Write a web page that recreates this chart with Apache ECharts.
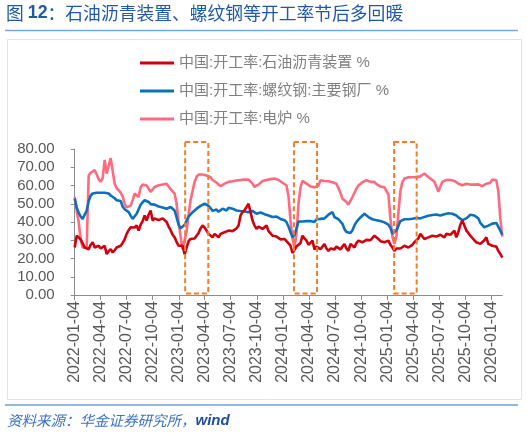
<!DOCTYPE html>
<html>
<head>
<meta charset="utf-8">
<script src="https://cdn.jsdelivr.net/npm/echarts@6/dist/echarts.min.js"></script>
<style>
html,body{margin:0;padding:0;background:#fff;}
#c{width:527px;height:434px;}
</style>
</head>
<body>
<div id="c"></div>
<script>
// ---- data ----
const startDate = '2022-01-04';
const endDate = '2026-02-10';
const seriesNames = ['中国:开工率:石油沥青装置 %', '中国:开工率:螺纹钢:主要钢厂 %', '中国:开工率:电炉 %'];
const quarterTickSuffix = ['-01-04', '-04-04', '-07-04', '-10-04'];
const yTicks = [0, 10, 20, 30, 40, 50, 60, 70, 80];

// weekly values, first week 2022-01-04, one value per week
const asphalt = [
26,32.5,31.5,30.5,29.8,26,25.5,25.1,27.5,28.9,
26,26.5,27,25.5,25.1,27,22.4,24,25.1,23.3,
24.5,26,25.5,27,28.5,30.5,33.5,35.5,37.1,36.2,
37,38.1,35.3,38.5,40.5,43.6,40.8,44,46.3,40.8,
42,42.7,41,41.7,42,42.7,40,37.5,35.5,33,
31.6,29,27,26,27,22.4,26,29.5,30.7,31.6,
31,32.5,34,36.5,38.1,37,36.2,33.5,32.5,31.6,
33.5,32.5,31.6,33.5,33,34.4,34,35.3,34.8,35,
35.3,36.5,38.1,43.6,45.4,46.5,48.2,50,45.4,40.8,
38,36.2,37.5,38.1,36.2,37,38.1,35,34.4,32.5,
33,32,31.6,30.5,29.8,30.7,29.5,28.9,27,23,
23.5,26.6,27.5,28.5,32.5,31,29.8,27.5,27,29.8,
25,26.5,27,25.1,26.5,28,25.5,24.2,25.5,26,
25,26.5,27,25,26.5,28,25.5,24.2,28,27,
26,28.5,29.8,29,28.9,29.8,30.2,30.7,30,29.8,
32.5,31.5,30.7,29.5,28.9,28.9,29.5,29.8,27.5,26,
24.2,25.5,26,25.5,25.1,27,26.5,26,27,27.5,
28.9,28,31,33.5,34.4,30.7,31.2,31.6,32,32.5,
31.6,32,32.5,33,33.5,31.6,33.5,34.4,33,32.5,
35.3,31.6,34.5,38.5,40.8,38.1,35.3,34,32.5,31.6,
30,28.9,28.5,28,28.9,30,31.6,28,27.5,27,
27,26.5,24.2,22.5,20.5
];
const rebar = [
52.8,48,45,43,41.7,42,46.3,51.5,54.5,55.6,
55.8,56,56.5,56,55.6,56,55.4,55.6,54.5,53.7,
53,51.9,52.5,51.5,48.5,47,46,45.4,43.5,41.7,
42.5,44.5,47,49.5,50.8,51.9,51.5,51,49.8,49.1,
49.5,49.1,48.5,48.2,48,47.5,47.3,47.8,48.2,47.5,
46.3,42.5,38.5,36.5,36.2,38.5,40.8,43,44,45.4,
46.3,47.3,48,48.8,49.6,50,50,48.8,47.5,46.1,
46.5,46.8,45.6,46.5,47.3,46.8,46.3,47.8,48,47.3,
46.8,46.3,46.5,46,45.4,45.8,46,45.4,45.8,46.1,
45.3,44.5,45.4,45.2,45,44.3,43.6,43.6,43.2,42.7,
43,43,42,41.7,41.7,41,39.9,37.5,34.5,31.6,
33,36.5,40.3,40.8,40.3,40,40.5,40.8,40.5,40,
40,41.5,41.7,41.7,41.7,42,42.7,44,45,45.4,
42.7,42,41.5,41,39,36.2,34.5,33.5,34,35.5,
38.1,40,41.3,42.5,43.5,44.5,43.5,42.7,42,41.5,
40.8,41,40.8,40.5,40,39.8,39.3,38.5,36.8,33.5,
34,35.3,38,40.5,41,41.5,41.7,41.5,41.5,41.8,
42,42.2,42,42,42.5,42.8,43.2,43.4,43.6,43.8,
44,44.1,43.8,43.6,44,44.3,44.5,44.8,45,44.5,
44.1,43.6,42.5,41.7,41,40.8,42,42.7,44,44.5,
43.6,43.8,42,39.5,38.5,37.1,37.5,38,38.8,39.1,
40,39.5,39,35.3,33
];
const eaf = [
53.7,46,40,30,26,26.5,26,65.5,67,67.8,
68.4,66,63.5,62,64,74,66.5,67,75,74,
61,58.5,57.4,56,54,50,48,47.3,49,52,
55.6,56.5,53.7,59,60.5,61,60,59,56.5,55.6,
59.2,59.5,60.1,61,60.5,60.1,61,59.5,58,57,
55.6,50,40,32,25,24.3,35,44,52,57,
62,64.7,66,66.5,66,65.7,65.5,64.7,64.5,63,
62,61.5,61,59.6,60.5,61,61.5,62,62,62.3,
62,62.7,62.9,63,62.9,63.2,63,63.2,62.9,61,
59.2,58.3,60.5,61.5,62.5,62.9,63,63.2,63.5,63.8,
63.8,63.5,63,62.5,61.5,61,60,54,41,31,
26,33.5,50,59,62.5,62.9,61,60,59.5,59.2,
59,59.2,60,62.9,63,62.5,62.6,62.3,62,61.8,
61.5,61,58.5,56,52.8,52,51,49.5,50.5,53.7,
56,58.3,60,61,61.8,62.5,62.9,62.5,62,62.2,
62,60.8,60.1,59.5,59.2,59,58.5,55,42,32,
28,32,45,57,62,63.8,64.2,64.5,64.7,64.5,
64.7,64.5,64.3,65,66,66.6,65.5,64.5,63.8,63,
62,59.5,56.5,59.5,62,62.5,63,63.2,63,63,
62.5,62,61,60.5,60.1,60.5,61,60.1,60.5,61.3,
60.5,60.1,60.6,60,59.6,60.5,61,60.8,61.5,63.2,
63.5,62.9,57,42,32
];
// highlighted post-holiday windows [from, to]
const boxes = [['2023-01-26', '2023-04-17'], ['2024-02-11', '2024-05-02'], ['2025-01-27', '2025-04-16']];
const boxValueRange = [0.8, 83.8];

// ---- build axis ----
function fmt(d) {
  const y = d.getUTCFullYear(), m = d.getUTCMonth() + 1, dd = d.getUTCDate();
  return y + '-' + (m < 10 ? '0' : '') + m + '-' + (dd < 10 ? '0' : '') + dd;
}
const categories = [];
{
  const t0 = Date.parse(startDate + 'T00:00:00Z');
  const t1 = Date.parse(endDate + 'T00:00:00Z');
  for (let t = t0; t <= t1; t += 86400000) categories.push(fmt(new Date(t)));
}
const isQuarter = (idx, val) => quarterTickSuffix.some(s => val.endsWith(s));
const weekly = arr => arr.map((v, i) => [i * 7, v]);

const FONT = "'Liberation Sans', Arial, 'Noto Sans CJK SC', sans-serif";
const colors = ['#D0000F', '#0B70BD', '#FF6A7E'];

const chart = echarts.init(document.getElementById('c'), null, {renderer: 'canvas'});
chart.setOption({
  animation: false,
  backgroundColor: '#fff',
  textStyle: {fontFamily: FONT},
  grid: {left: 74.7, right: 24.7, top: 149, bottom: 139, containLabel: false, outerBoundsMode: 'none'},
  legend: {
    data: seriesNames,
    orient: 'vertical',
    left: 135,
    top: 48,
    icon: 'rect',
    itemWidth: 34,
    itemHeight: 3,
    itemGap: 8,
    textStyle: {color: '#808080', fontSize: 15, fontFamily: FONT, lineHeight: 20},
    selectedMode: false
  },
  xAxis: {
    type: 'category',
    data: categories,
    boundaryGap: false,
    axisLine: {lineStyle: {color: '#8c8c8c', width: 1}},
    axisTick: {show: true, interval: isQuarter, length: 5, lineStyle: {color: '#8c8c8c'}},
    axisLabel: {interval: isQuarter, rotate: 90, color: '#595959', fontSize: 16, margin: 6, fontFamily: FONT},
    splitLine: {show: false}
  },
  yAxis: {
    type: 'value',
    min: 0, max: 80, interval: 10,
    axisLine: {show: true, lineStyle: {color: '#8c8c8c', width: 1}},
    axisTick: {show: true, length: 4, lineStyle: {color: '#8c8c8c'}},
    axisLabel: {color: '#595959', fontSize: 15, margin: 20, fontFamily: FONT,
      formatter: v => yTicks.includes(v) ? v.toFixed(2) : ''},
    splitLine: {show: false}
  },
  series: [
    {name: seriesNames[0], type: 'line', data: weekly(asphalt), symbol: 'none', color: colors[0], lineStyle: {width: 2.6}, z: 4},
    {name: seriesNames[1], type: 'line', data: weekly(rebar), symbol: 'none', color: colors[1], lineStyle: {width: 2.6}, z: 3},
    {name: seriesNames[2], type: 'line', data: weekly(eaf), symbol: 'none', color: colors[2], lineStyle: {width: 2.6}, z: 2},
    {
      name: 'boxes', type: 'custom', silent: true, z: 6, clip: false,
      data: boxes.map(b => [categories.indexOf(b[0]), categories.indexOf(b[1])]),
      encode: {x: [0, 1]},
      renderItem: function (params, api) {
        const p1 = api.coord([api.value(0), boxValueRange[1]]);
        const p2 = api.coord([api.value(1), boxValueRange[0]]);
        return {
          type: 'rect',
          shape: {x: p1[0], y: p1[1], width: p2[0] - p1[0], height: p2[1] - p1[1]},
          style: {fill: 'none', stroke: '#ED7D31', lineWidth: 2, lineDash: [5, 3]}
        };
      }
    }
  ],
  graphic: [
    {type: 'rect', left: 5, top: 37, shape: {width: 514, height: 360}, style: {fill: 'none', stroke: '#e3e3e3', lineWidth: 1}, silent: true, z: 0},
    {type: 'line', shape: {x1: 5, y1: 30.5, x2: 518, y2: 30.5}, style: {stroke: '#74A9DC', lineWidth: 1.5}, silent: true},
    {type: 'line', shape: {x1: 5, y1: 405, x2: 518, y2: 405}, style: {stroke: '#2F6FB5', lineWidth: 1.2}, silent: true},
    {type: 'text', left: 6, top: 4, silent: true, style: {
      text: '{a|图 }{b|12}{a|：石油沥青装置、螺纹钢等开工率节后多回暖}',
      rich: {
        a: {fontSize: 17.8, fill: '#1F5AA6', fontFamily: "'Noto Sans CJK SC', sans-serif"},
        b: {fontSize: 17.8, fill: '#1F5AA6', fontWeight: 'bold', fontFamily: FONT}
      }
    }},
    {type: 'text', left: 7, top: 413, silent: true, style: {
      text: '{a|资料来源：华金证券研究所，}{b|wind}',
      rich: {
        a: {fontSize: 14.5, fill: '#3C72C0', fontStyle: 'italic', fontFamily: "'Noto Sans CJK SC', sans-serif"},
        b: {fontSize: 15, fill: '#1F4FA0', fontStyle: 'italic', fontWeight: 'bold', fontFamily: FONT}
      }
    }}
  ]
});
</script>
</body>
</html>
